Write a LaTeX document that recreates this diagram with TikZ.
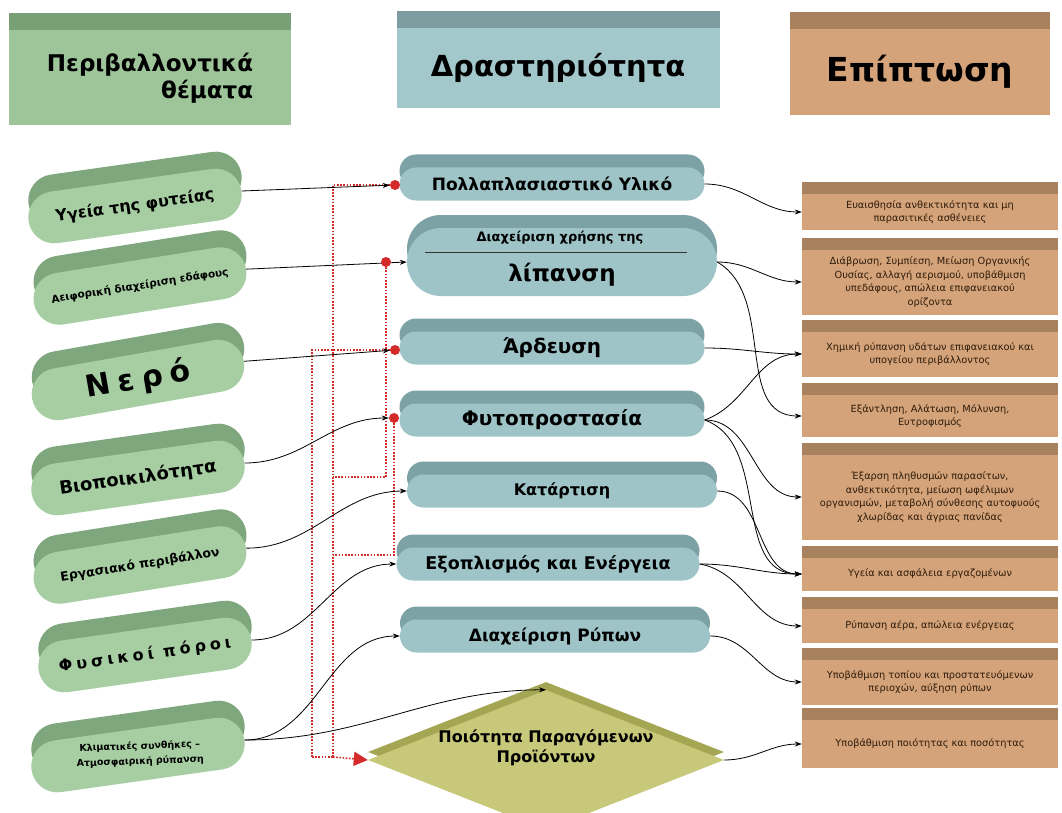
\documentclass[tikz,border=0pt]{standalone}
\usepackage{fontspec}
\setmainfont{DejaVu Sans}
\newfontfamily\widefont[LetterSpace=25]{DejaVu Sans}
\usetikzlibrary{shapes.misc,shapes.geometric,shadows,arrows.meta,calc}
\definecolor{gfront}{HTML}{A6CEA2}
\definecolor{gtop}{HTML}{7FA77D}
\definecolor{hgfront}{HTML}{9DC599}
\definecolor{hgtop}{HTML}{789F76}
\definecolor{tfront}{HTML}{9EC4C7}
\definecolor{ttop}{HTML}{7DA2A6}
\definecolor{htfront}{HTML}{A3C8CB}
\definecolor{httop}{HTML}{7E9DA1}
\definecolor{bfront}{HTML}{D4A379}
\definecolor{btop}{HTML}{A8825F}
\definecolor{ofront}{HTML}{C8C87B}
\definecolor{otop}{HTML}{A5A654}
\definecolor{rdot}{HTML}{D42A2A}
\definecolor{rtext}{HTML}{2E1C0C}
\newcommand{\fsz}[1]{\fontsize{#1}{#1}\selectfont}
\begin{document}
\begin{tikzpicture}[x=1pt,y=-1pt,
  every node/.style={inner sep=0pt},
  hbox/.style n args={2}{rectangle, fill=#1, general shadow={fill=#2, shadow yshift=17pt}},
  lpill/.style={rounded rectangle, minimum width=215pt, minimum height=52pt, fill=gfront,
    general shadow={fill=gtop, shadow yshift=17pt}, rotate=#1},
  mpill/.style={rounded rectangle, minimum width=305pt, minimum height=33pt, fill=tfront,
    general shadow={fill=ttop, shadow yshift=13pt}},
  rbox/.style={rectangle, minimum width=256pt, minimum height=#1, fill=bfront,
    general shadow={fill=btop, shadow yshift=12pt}, align=center, text=rtext,
    font=\fontsize{9.8}{13.5}\selectfont},
  conn/.style={draw=black, line width=0.8pt, -{Stealth[length=7pt,width=5pt]}},
  reddot/.style={draw=rdot, line width=1.6pt, dash pattern=on 1.6pt off 1.6pt},
  dotnode/.style={circle, fill=rdot, minimum size=10pt}
]
\useasboundingbox (0,0) rectangle (1062,813);
\clip (0,0) rectangle (1062,813);
\fill[white] (0,0) rectangle (1062,813);

% headers
\node[hbox={hgfront}{hgtop}, minimum width=282pt, minimum height=95pt, align=right,
  font=\bfseries\fontsize{23}{27}\selectfont] (h1) at (150,78) {Περιβαλλοντικά\\θέματα};
\node[hbox={htfront}{httop}, minimum width=323pt, minimum height=80pt,
  font=\bfseries\fsz{29}] (h2) at (558,68) {Δραστηριότητα};
\node[hbox={bfront}{btop}, minimum width=260pt, minimum height=86pt,
  font=\bfseries\fsz{33}] (h3) at (920,72) {Επίπτωση};

% left column
\node[lpill=8, font=\bfseries\fsz{16}] (l1) at (135,206) {Υγεία της φυτείας};
\node[lpill=9, font=\bfseries\fsz{10.5}] (l2) at (140,286) {Αειφορική διαχείριση εδάφους};
\node[lpill=10, font=\widefont\bfseries\fsz{30}] (l3) at (138,380) {Νερό};
\node[lpill=8, font=\bfseries\fsz{18}] (l4) at (138,478) {Βιοποικιλότητα};
\node[lpill=9, font=\bfseries\fsz{12.5}] (l5) at (140,565) {Εργασιακό περιβάλλον};
\node[lpill=8, font=\widefont\bfseries\fsz{16}] (l6) at (145,655) {Φυσικοί πόροι};
\node[lpill=8] (l7) at (138,755) {};
\node[rotate=2, align=center, font=\bfseries\fontsize{9.5}{15}\selectfont] (l7t) at (140,754)
  {Κλιματικές συνθήκες --\\Ατμοσφαιρική ρύπανση};

% middle column
\node[mpill, font=\bfseries\fsz{17}] (p1) at (552,184) {Πολλαπλασιαστικό Υλικό};
\node[mpill, minimum width=310pt, minimum height=68pt] (p2) at (562,262) {};
\node[font=\bfseries\fsz{13}] (p2a) at (560,238) {Διαχείριση χρήσης της};
\node[font=\bfseries\fsz{23}] (p2b) at (562,275) {λίπανση};
\draw[line width=1pt, black!80] ($(p2.center)+(-137,-10)$) -- ($(p2.center)+(125,-10)$);
\node[mpill, font=\bfseries\fsz{20}] (p3) at (552,348) {Άρδευση};
\node[mpill, font=\bfseries\fsz{20}] (p4) at (552,420) {Φυτοπροστασία};
\node[mpill, minimum width=310pt, font=\bfseries\fsz{16}] (p5) at (562,491) {Κατάρτιση};
\node[mpill, minimum width=303pt, font=\bfseries\fsz{17.5}] (p6) at (548,564) {Εξοπλισμός και Ενέργεια};
\node[mpill, minimum width=310pt, font=\bfseries\fsz{17}] (p7) at (555,636) {Διαχείριση Ρύπων};
\node[diamond, minimum width=356pt, minimum height=140pt, fill=ofront,
  general shadow={fill=otop, shadow yshift=8pt}] (dia) at (546,760) {};
\node[align=center, font=\bfseries\fontsize{16}{20}\selectfont] (diat) at (546,748)
  {Ποιότητα Παραγόμενων\\Προϊόντων};

% right column
\node[rbox=35pt] (r1) at (930,212) {Ευαισθησία ανθεκτικότητα και μη\\παρασιτικές ασθένειες};
\node[rbox=65pt] (r2) at (930,282) {Διάβρωση, Συμπίεση, Μείωση Οργανικής\\Ουσίας, αλλαγή αερισμού, υποβάθμιση\\υπεδάφους, απώλεια επιφανειακού\\ορίζοντα};
\node[rbox=45pt] (r3) at (930,354) {Χημική ρύπανση υδάτων επιφανειακού και\\υπογείου περιβάλλοντος};
\node[rbox=42pt] (r4) at (930,416) {Εξάντληση, Αλάτωση, Μόλυνση,\\Ευτροφισμός};
\node[rbox=85pt] (r5) at (930,497) {Έξαρση πληθυσμών παρασίτων,\\ανθεκτικότητα, μείωση ωφέλιμων\\οργανισμών, μεταβολή σύνθεσης αυτοφυούς\\χλωρίδας και άγριας πανίδας};
\node[rbox=33pt] (r6) at (930,574) {Υγεία και ασφάλεια εργαζομένων};
\node[rbox=34pt] (r7) at (930,626) {Ρύπανση αέρα, απώλεια ενέργειας};
\node[rbox=45pt] (r8) at (930,682) {Υποβάθμιση τοπίου και προστατευόμενων\\περιοχών, αύξηση ρύπων};
\node[rbox=48pt] (r9) at (930,744) {Υποβάθμιση ποιότητας και ποσότητας};

% arrow through the second dot
\draw[conn] (l2.east) -- (p2.west);

% red dots
\node[dotnode] (d1) at (395,185) {};
\node[dotnode] (d2) at (386,262) {};
\node[dotnode] (d3) at (395,350) {};
\node[dotnode] (d4) at (394,418) {};

% red dotted network
\coordinate (ja) at (312,757);
\coordinate (jb) at (333,757);
\coordinate (m2) at (333,477);
\coordinate (m4) at (333,555);
\draw[reddot] (d1) -| (jb);
\draw[reddot] (d3) -| (ja);
\draw[reddot] (d2) |- (m2);
\draw[reddot] (d4) |- (m4);
\draw[reddot] (ja) -- (jb);
\draw[reddot, -{Triangle[length=14pt,width=14pt,fill=rdot]}] (jb) -- (dia.west);

% left -> middle
\draw[conn] (l1.east) -- (d1);
\draw[conn] (l3.east) -- (d3);
\draw[conn] (l4.east) to[out=0,in=180] (d4);
\draw[conn] (l5.east) to[out=0,in=180] (p5.west);
\draw[conn] (l6.east) to[out=0,in=180] (p6.west);
\draw[conn] (l7.east) to[out=0,in=180] (p7.west);
\draw[conn] (l7.east) to[out=0,in=180] (dia.north);

% middle -> right
\draw[conn] (p1.east) to[out=0,in=180] (r1.west);
\draw[conn] (p2.east) to[out=0,in=180] (r2.west);
\draw[conn] (p2.east) to[out=-30,in=180] (r4.west);
\draw[conn] (p3.east) to[out=0,in=180] (r3.west);
\draw[conn] (p4.east) to[out=20,in=180] (r3.west);
\draw[conn] (p4.east) to[out=0,in=180] (r5.west);
\draw[conn] (p4.east) to[out=-20,in=180] (r6.west);
\draw[conn] (p5.east) to[out=0,in=180] (r6.west);
\draw[conn] (p6.east) to[out=0,in=180] (r6.west);
\draw[conn] (p6.east) to[out=-10,in=180] (r7.west);
\draw[conn] (p7.east) to[out=0,in=180] (r8.west);
\draw[conn] (dia.east) to[out=0,in=180] (r9.west);
\end{tikzpicture}
\end{document}
